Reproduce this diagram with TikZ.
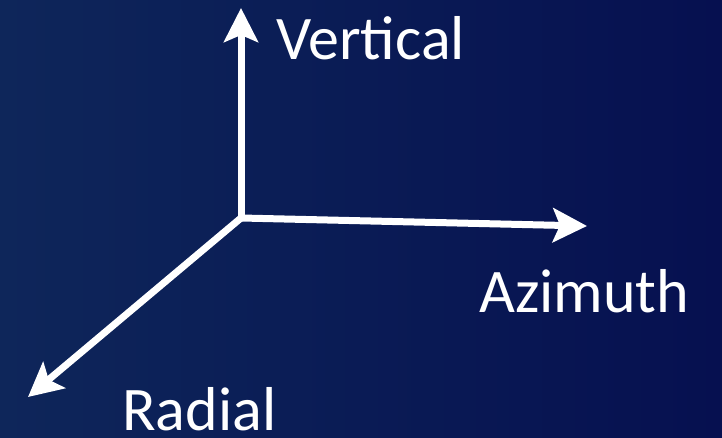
\documentclass[tikz,border=0pt]{standalone}
\usepackage{fontspec}
\setmainfont{Carlito}
\usetikzlibrary{arrows.meta}
\definecolor{nenTrai}{RGB}{14,38,90}
\definecolor{nenPhai}{RGB}{6,16,80}
\begin{document}
\begin{tikzpicture}[x=1pt, y=-1pt, line join=miter, >={Stealth[length=34pt,width=34pt,inset=7pt]}]
\tikzset{truc/.style={white, line width=7pt, ->},
         nhan/.style={text=white, inner sep=0pt, anchor=base west, font=\fontsize{62}{62}\selectfont}}
% nen
\shade[left color=nenTrai, right color=nenPhai] (0,0) rectangle (722,438);
\useasboundingbox (0,0) rectangle (722,438);
% goc va dau mut
\coordinate (goc) at (241,218);
\coordinate (dung) at (241,8);
\coordinate (ngang) at (587,226);
\coordinate (xien) at (28,397);
\foreach \mut in {dung,ngang,xien}
  \draw[truc] (goc) -- (\mut);
% nhan
\node[nhan] (tDung) at (276,60) {Vertical};
\node[nhan] (tNgang) at (479,312) {Azimuth};
\node[nhan] (tXien) at (122,430) {Radial};
\end{tikzpicture}
\end{document}
